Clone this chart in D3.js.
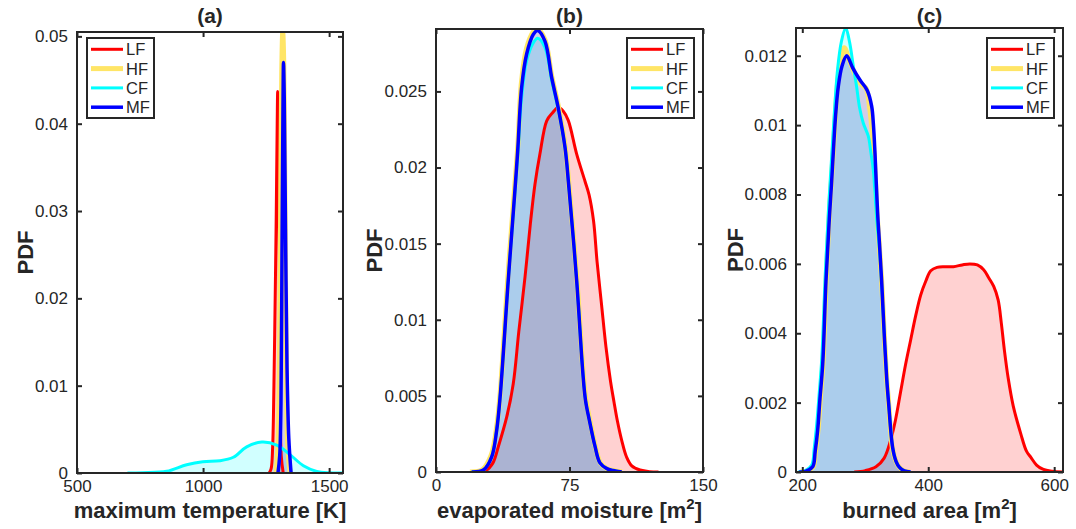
<!DOCTYPE html>
<html>
<head>
<meta charset="utf-8">
<script src="https://cdn.jsdelivr.net/npm/d3@7"></script>
<style>
	body { margin: 0; background: #fff; }
	svg { display: block; font-family: "Liberation Sans", Arial, sans-serif; }
</style>
</head>
<body>
<svg width="1076" height="529"></svg>
<script>

// series names and colours
var seriesNames = ["LF", "HF", "CF", "MF"];
var seriesColors = ["#ff0000", "#ffe566", "#00ffff", "#0000ff"];
var lineWidths = [3, 5, 3, 3.5];

// (a) maximum temperature [K]  -> [x, pdf]
var aLF = [[1262,0],[1270,0.0005],[1276,0.003],[1281,0.01],[1286,0.02],[1290,0.029],[1294,0.04],[1296,0.0437],[1299,0.04],[1302,0.026],[1305,0.012],[1310,0.002],[1318,0]];
var aHF = [[1290,0],[1297,0.003],[1303,0.012],[1308,0.032],[1312,0.046],[1316,0.0505],[1320,0.047],[1325,0.03],[1330,0.012],[1336,0.003],[1345,0]];
var aCF = [[700,0],[760,0.00003],[856,0.00019],[935,0.00095],[999,0.0013],[1067,0.0014],[1120,0.0018],[1173,0.003],[1233,0.00354],[1292,0.0032],[1345,0.0021],[1398,0.00083],[1451,0.00018],[1500,0.00002],[1555,0]];
var aMF = [[1297,0],[1304,0.002],[1309,0.008],[1313,0.025],[1317,0.042],[1319,0.047],[1322,0.043],[1327,0.028],[1333,0.012],[1340,0.004],[1349,0]];

// (b) evaporated moisture [m2]
var bLF = [[24,0],[28,0.0001],[32,0.0006],[35,0.00166],[39.7,0.0036],[43.4,0.0058],[46.5,0.0092],[50,0.0128],[53,0.0163],[55.6,0.0189],[58.4,0.0209],[62.2,0.02307],[65.5,0.0236],[68.7,0.02394],[71.5,0.0237],[74.3,0.0231],[79,0.0209],[83.7,0.0191],[86,0.0182],[88.5,0.0165],[90.5,0.0138],[93,0.011],[95.5,0.0082],[98,0.006],[100,0.0046],[102,0.0033],[104.5,0.002],[107,0.001],[110,0.0004],[114.6,0.00013],[120,0.00002],[125,0]];
var bHF = [[19,0],[26,0.00014],[31,0.0011],[34,0.0029],[36,0.0051],[40.5,0.013],[44.4,0.019],[46,0.0215],[48,0.0256],[50.8,0.0278],[54.6,0.0289],[57,0.0291],[61.2,0.0284],[65,0.026],[68.8,0.024],[72.6,0.0214],[74.6,0.019],[79.2,0.0126],[82.7,0.0065],[84.2,0.0048],[86.8,0.0032],[89.5,0.0017],[92.3,0.0006],[96,0.00022],[99.8,0.0001],[104.5,0]];
var bCF = [[20,0],[26.6,0.00013],[31.3,0.001],[34.1,0.00275],[36,0.0049],[40.6,0.0126],[44.4,0.0184],[45.9,0.0207],[48.1,0.0246],[50.9,0.0270],[54.7,0.0282],[57.1,0.0285],[61.2,0.0279],[65,0.0257],[68.7,0.0238],[72.5,0.0213],[74.5,0.0189],[79,0.0126],[82.5,0.0065],[84,0.0047],[86.5,0.0032],[89.3,0.0017],[92.1,0.0006],[96,0.00022],[99.6,0.0001],[104.3,0]];
var bMF = [[20,0],[26.6,0.00013],[31.3,0.001],[34.1,0.00275],[36,0.0049],[40.6,0.0126],[44.4,0.0186],[45.9,0.0211],[48.1,0.02525],[50.9,0.02744],[54.7,0.02875],[57.1,0.029],[61.2,0.0283],[65,0.0259],[68.7,0.0239],[72.5,0.0213],[74.5,0.0189],[79,0.0126],[82.5,0.0065],[84,0.0047],[86.5,0.0032],[89.3,0.0017],[92.1,0.0006],[96,0.00022],[99.6,0.0001],[104.3,0]];

// (c) burned area [m2]
var cLF = [[282.5,0],[300,0.00004],[317,0.00015],[330,0.0004],[340,0.0009],[348,0.0015],[356,0.0023],[364,0.0031],[372,0.0038],[380,0.0045],[388,0.0051],[396,0.0055],[404,0.0058],[414,0.0059],[426,0.00592],[440,0.00592],[454,0.00597],[466,0.006],[478,0.00597],[488,0.00583],[496,0.0056],[504,0.00535],[511,0.00496],[516,0.0043],[521,0.0035],[527,0.0027],[535,0.0019],[547,0.0011],[556,0.0006],[563,0.00042],[572,0.0002],[582,0.00008],[597,0.00002],[613,0]];
var cHF = [[196,0],[206,0.00002],[217,0.00015],[221,0.0006],[225,0.0012],[229,0.0022],[233,0.0032],[238,0.0056],[243,0.0075],[247,0.0086],[250,0.0095],[256,0.0112],[261,0.0119],[266.7,0.01223],[274,0.0119],[283,0.0115],[292,0.0112],[301,0.01107],[307,0.0105],[311,0.0098],[314.5,0.009],[318.5,0.0075],[322,0.0066],[326,0.0055],[330,0.004],[334,0.0027],[337,0.002],[343,0.0007],[349,0.0003],[354,0.00014],[362,0.00003],[371,0]];
var cCF = [[193,0],[204,0.00003],[215,0.0002],[219,0.0007],[223,0.0014],[227,0.0023],[231,0.0033],[236.5,0.0057],[242,0.0077],[246,0.0089],[250,0.0101],[256,0.0116],[262,0.0124],[268.9,0.0128],[275,0.0124],[281,0.0117],[286.3,0.0111],[291,0.0105],[296.8,0.01006],[304.8,0.00968],[309,0.0092],[312.7,0.00872],[318,0.0073],[322.5,0.0064],[326,0.0054],[330,0.004],[334,0.0027],[337,0.002],[343.5,0.0007],[349,0.0003],[354,0.00014],[362,0.00003],[372,0]];
var cMF = [[195,0],[205,0.00002],[216.5,0.00015],[220.5,0.0006],[224.4,0.0012],[228,0.0021],[232.4,0.0031],[237.6,0.0055],[242.9,0.0073],[246.7,0.0084],[249.2,0.0092],[253,0.0103],[257.1,0.0111],[263,0.0117],[270.5,0.012],[280,0.01165],[291.6,0.0113],[303.2,0.011],[310.2,0.01054],[313,0.01],[315.4,0.0092],[319.5,0.0075],[322.5,0.0066],[326,0.0055],[330,0.004],[334,0.0027],[337,0.002],[343.5,0.0007],[349,0.0003],[354,0.00014],[362,0.00003],[372,0]];

// ticks
var aXTicks = [500, 1000, 1500];
var aYTicks = [0, 0.01, 0.02, 0.03, 0.04, 0.05];
var bXTicks = [0, 75, 150];
var bYTicks = [0, 0.005, 0.01, 0.015, 0.02, 0.025];
var cXTicks = [200, 400, 600];
var cYTicks = [0, 0.002, 0.004, 0.006, 0.008, 0.01, 0.012];

var svg = d3.select("svg");
var ink = "#262626";

var panels = [
	{ title: "(a)", left: 77, right: 343, top: 32, bottom: 473, xDom: [500, 1555], yDom: [0, 0.0505],
	  xTicks: aXTicks, yTicks: aYTicks, data: [aLF, aHF, aCF, aMF], xlabel: ["maximum temperature [K]"], ylabelX: 33, legendX: 87 },
	{ title: "(b)", left: 436, right: 703, top: 29, bottom: 472, xDom: [0, 150], yDom: [0, 0.0291],
	  xTicks: bXTicks, yTicks: bYTicks, data: [bLF, bHF, bCF, bMF], xlabel: ["evaporated moisture [m", "2", "]"], ylabelX: 382, legendX: 627 },
	{ title: "(c)", left: 796, right: 1063, top: 28, bottom: 472, xDom: [190, 614], yDom: [0, 0.0128],
	  xTicks: cXTicks, yTicks: cYTicks, data: [cLF, cHF, cCF, cMF], xlabel: ["burned area [m", "2", "]"], ylabelX: 743, legendX: 987 }
];

panels.forEach(drawPanel);

function drawPanel(p, i) {
	var x = d3.scaleLinear().domain(p.xDom).range([p.left, p.right]),
		y = d3.scaleLinear().domain(p.yDom).range([p.bottom, p.top]);

	var g = svg.append("g");

	g.append("clipPath").attr("id", "clip" + i)
		.append("rect")
		.attr("x", p.left).attr("y", p.top)
		.attr("width", p.right - p.left).attr("height", p.bottom - p.top);

	var plot = g.append("g").attr("clip-path", "url(#clip" + i + ")");

	var curve = d3.curveCatmullRom.alpha(0.5);

	var area = d3.area()
		.x(function(d) { return x(d[0]); })
		.y0(y(0))
		.y1(function(d) { return y(d[1]); })
		.curve(curve);

	var line = d3.line()
		.x(function(d) { return x(d[0]); })
		.y(function(d) { return y(d[1]); })
		.curve(curve);

	p.data.forEach(function(s, k) {
		plot.append("path").attr("d", area(s))
			.attr("fill", seriesColors[k]).attr("fill-opacity", 0.18);
	});
	p.data.forEach(function(s, k) {
		plot.append("path").attr("d", line(s))
			.attr("fill", "none")
			.attr("stroke", seriesColors[k])
			.attr("stroke-width", lineWidths[k])
			.attr("stroke-linejoin", "round");
	});

	// axes, ticks pointing inwards on all four sides
	var fmt = d3.format("~g");
	var bottomAxis = d3.axisBottom(x).tickValues(p.xTicks).tickFormat(fmt).tickSizeInner(-5).tickSizeOuter(0).tickPadding(7);
	var topAxis = d3.axisTop(x).tickValues(p.xTicks).tickFormat("").tickSizeInner(-5).tickSizeOuter(0);
	var leftAxis = d3.axisLeft(y).tickValues(p.yTicks).tickFormat(fmt).tickSizeInner(-5).tickSizeOuter(0).tickPadding(9);
	var rightAxis = d3.axisRight(y).tickValues(p.yTicks).tickFormat("").tickSizeInner(-5).tickSizeOuter(0);

	[[bottomAxis, "translate(0," + p.bottom + ")"],
	 [topAxis, "translate(0," + p.top + ")"],
	 [leftAxis, "translate(" + p.left + ",0)"],
	 [rightAxis, "translate(" + p.right + ",0)"]].forEach(function(a) {
		var ax = g.append("g").attr("transform", a[1]).call(a[0]);
		ax.select(".domain").remove();
		ax.selectAll("line").attr("stroke", ink).attr("stroke-width", 2);
		ax.selectAll("text").attr("fill", ink).style("font-size", "17px").style("font-family", "'Liberation Sans', Arial, sans-serif");
	});

	g.append("rect")
		.attr("x", p.left).attr("y", p.top)
		.attr("width", p.right - p.left).attr("height", p.bottom - p.top)
		.attr("fill", "none").attr("stroke", ink).attr("stroke-width", 2);

	// title
	g.append("text")
		.attr("x", (p.left + p.right) / 2).attr("y", 23)
		.attr("text-anchor", "middle")
		.attr("font-weight", "bold").attr("font-size", 21).attr("fill", ink)
		.text(p.title);

	// x label
	var xl = g.append("text")
		.attr("x", (p.left + p.right) / 2).attr("y", 518)
		.attr("text-anchor", "middle")
		.attr("font-weight", "bold").attr("font-size", 22).attr("fill", ink);
	xl.append("tspan").text(p.xlabel[0]);
	if (p.xlabel.length > 1) {
		xl.append("tspan").attr("dy", -9).attr("font-size", 15).text(p.xlabel[1]);
		xl.append("tspan").attr("dy", 9).text(p.xlabel[2]);
	}

	// y label
	g.append("text")
		.attr("transform", "translate(" + p.ylabelX + "," + (p.top + p.bottom) / 2 + ") rotate(-90)")
		.attr("text-anchor", "middle")
		.attr("font-weight", "bold").attr("font-size", 22).attr("fill", ink)
		.text("PDF");

	// legend
	var lg = g.append("g").attr("transform", "translate(" + p.legendX + ",38)");
	lg.append("rect").attr("width", 67).attr("height", 80)
		.attr("fill", "#fff").attr("stroke", ink).attr("stroke-width", 2);
	seriesNames.forEach(function(name, k) {
		var yy = 11.3 + k * 19.3;
		lg.append("line")
			.attr("x1", 4).attr("x2", 36).attr("y1", yy).attr("y2", yy)
			.attr("stroke", seriesColors[k]).attr("stroke-width", lineWidths[k]);
		lg.append("text")
			.attr("x", 39).attr("y", yy).attr("dy", "0.36em")
			.attr("font-size", 16.5).attr("fill", ink)
			.text(name);
	});
}

</script>
</body>
</html>
